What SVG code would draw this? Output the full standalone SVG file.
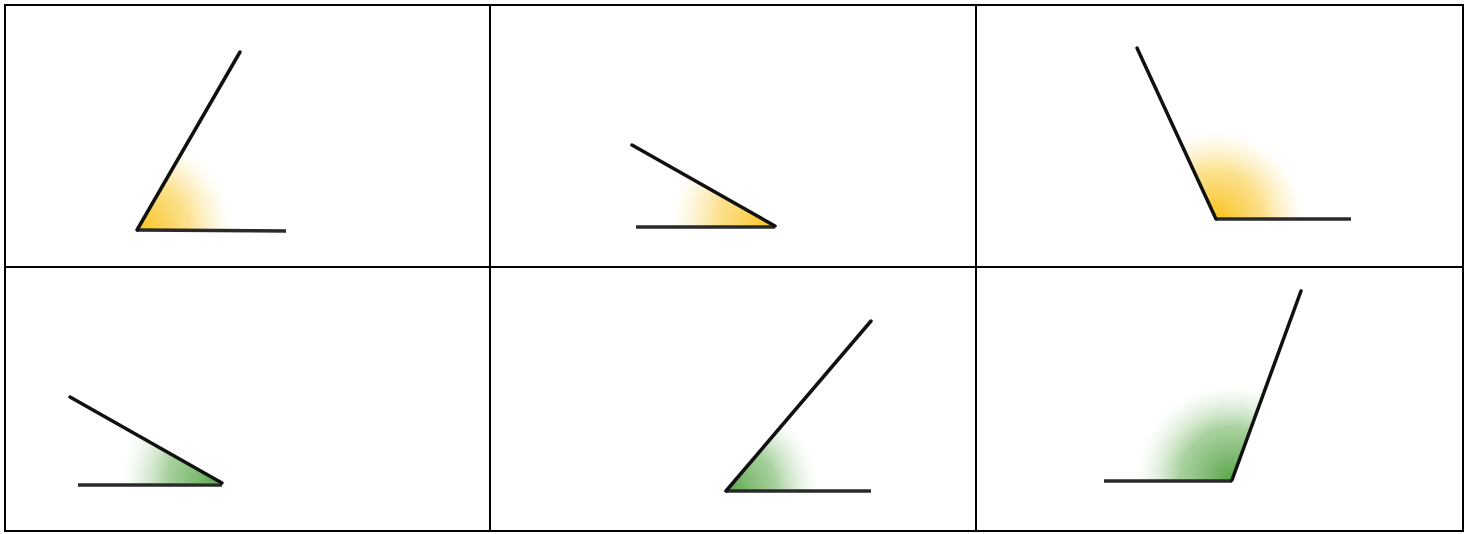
<svg xmlns="http://www.w3.org/2000/svg" width="1469" height="534" viewBox="0 0 1469 534">
<style>
.grid{fill:none;stroke:#000;stroke-width:2}
.arm{fill:none;stroke:#111;stroke-width:3.5;stroke-linecap:round;stroke-linejoin:round}
.base{fill:none;stroke:#2a2a2a;stroke-width:3.5;stroke-linecap:butt}
</style>
<defs>
<radialGradient id="gy">
<stop offset="0" stop-color="#f8c21a" stop-opacity="1"/>
<stop offset="0.55" stop-color="#fad050" stop-opacity="0.65"/>
<stop offset="1" stop-color="#fde9a0" stop-opacity="0"/>
</radialGradient>
<radialGradient id="gg">
<stop offset="0" stop-color="#58a548" stop-opacity="1"/>
<stop offset="0.55" stop-color="#79b86a" stop-opacity="0.65"/>
<stop offset="1" stop-color="#c4e0bc" stop-opacity="0"/>
</radialGradient>
<clipPath id="c1"><polygon points="137,230 240,52 286,52 286,231"/></clipPath>
<clipPath id="c2"><polygon points="775,226 632,145 600,145 600,227"/></clipPath>
<clipPath id="c3"><polygon points="1216,219 1137,48 1351,48 1351,219"/></clipPath>
<clipPath id="c4"><polygon points="222,483 70,397 40,397 40,485"/></clipPath>
<clipPath id="c5"><polygon points="726,491 871,321 871,491"/></clipPath>
<clipPath id="c6"><polygon points="1232,480 1301,291 1104,291 1104,481"/></clipPath>
</defs>
<g id="grid">
<rect class="grid" x="5" y="5" width="1458" height="526"/>
<line class="grid" x1="490" y1="5" x2="490" y2="531"/>
<line class="grid" x1="976" y1="5" x2="976" y2="531"/>
<line class="grid" x1="5" y1="267" x2="1463" y2="267"/>
</g>
<g id="angle1">
<circle cx="137" cy="230" r="95" fill="url(#gy)" clip-path="url(#c1)"/>
<line class="base" x1="137" y1="230" x2="286" y2="231"/>
<line class="arm" x1="137" y1="230" x2="240" y2="52"/>
</g>
<g id="angle2">
<circle cx="775" cy="226" r="105" fill="url(#gy)" clip-path="url(#c2)"/>
<line class="base" x1="636" y1="227" x2="775" y2="227"/>
<line class="arm" x1="775" y1="226" x2="632" y2="145"/>
</g>
<g id="angle3">
<circle cx="1216" cy="219" r="88" fill="url(#gy)" clip-path="url(#c3)"/>
<line class="base" x1="1216" y1="219" x2="1351" y2="219"/>
<line class="arm" x1="1216" y1="219" x2="1137" y2="48"/>
</g>
<g id="angle4">
<circle cx="222" cy="483" r="100" fill="url(#gg)" clip-path="url(#c4)"/>
<line class="base" x1="78" y1="485" x2="222" y2="485"/>
<line class="arm" x1="222" y1="483" x2="70" y2="397"/>
</g>
<g id="angle5">
<circle cx="726" cy="491" r="92" fill="url(#gg)" clip-path="url(#c5)"/>
<line class="base" x1="726" y1="491" x2="871" y2="491"/>
<line class="arm" x1="726" y1="491" x2="871" y2="321"/>
</g>
<g id="angle6">
<circle cx="1232" cy="480" r="95" fill="url(#gg)" clip-path="url(#c6)"/>
<line class="base" x1="1104" y1="481" x2="1232" y2="481"/>
<line class="arm" x1="1232" y1="480" x2="1301" y2="291"/>
</g>
</svg>
